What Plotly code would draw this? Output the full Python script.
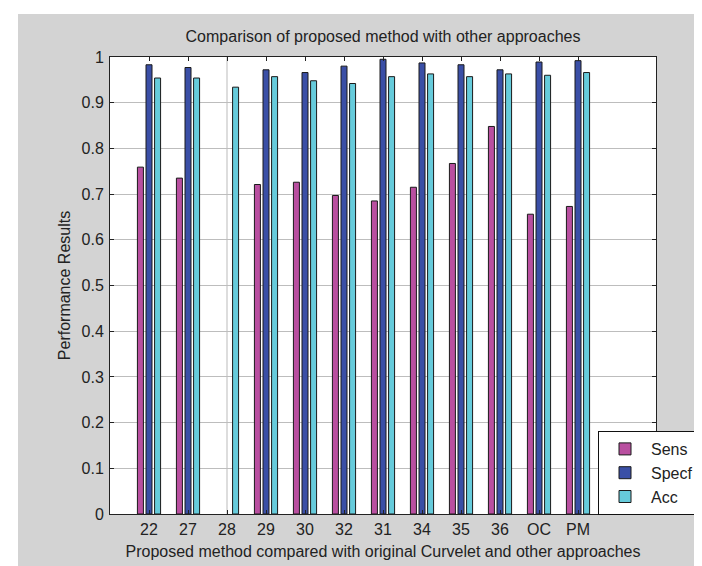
import plotly.graph_objects as go

categories = ["22", "27", "28", "29", "30", "32", "31", "34", "35", "36", "OC", "PM"]
positions = list(range(1, len(categories) + 1))
sens = [0.759, 0.735, None, 0.721, 0.726, 0.697, 0.685, 0.715, 0.767, 0.848, 0.656, 0.673]
specf = [0.983, 0.977, None, 0.972, 0.966, 0.980, 0.995, 0.987, 0.983, 0.972, 0.989, 0.992]
acc = [0.954, 0.954, 0.934, 0.957, 0.948, 0.942, 0.957, 0.963, 0.957, 0.963, 0.960, 0.966]
series_names = ["Sens", "Specf", "Acc"]
series_colors = ["#b94fa0", "#3a4fa6", "#66cbdb"]
y_ticks = [0, 0.1, 0.2, 0.3, 0.4, 0.5, 0.6, 0.7, 0.8, 0.9, 1]

FONT = "Liberation Sans, Arial, Helvetica, sans-serif"
GRAY = "#d3d3d3"
FS = 16
TXT = "#222222"

fig = go.Figure()
for name, vals, col in zip(series_names, [sens, specf, acc], series_colors):
    fig.add_trace(go.Bar(
        x=positions, y=vals, name=name,
        marker=dict(color=col, line=dict(color="#1a1a1a", width=1)),
    ))

W, H = 702, 566
L, R, T, B = 102, 54, 49, 60
PW, PH = W - L - R, H - T - B

fig.update_layout(
    width=W, height=H,
    margin=dict(l=L, r=R, t=T, b=B, autoexpand=False),
    paper_bgcolor=GRAY,
    plot_bgcolor="white",
    barmode="group",
    bargap=0.34,
    bargroupgap=0.3,
    font=dict(family=FONT, size=FS, color=TXT),
    title=dict(text="Comparison of proposed method with other approaches",
               x=0.5, xref="paper", xanchor="center",
               y=1 - 28 / H, yref="container", yanchor="middle",
               font=dict(family=FONT, size=FS, color=TXT)),
    showlegend=True,
    legend=dict(x=(590 - L) / PW, y=(506 - 423) / PH,
                xanchor="left", yanchor="top",
                bgcolor="white", bordercolor="#111111", borderwidth=1,
                font=dict(family=FONT, size=FS, color=TXT),
                itemwidth=42),
    shapes=[
        dict(type="rect", xref="paper", yref="paper",
             x0=-L / PW, x1=-(L - 10) / PW,
             y0=-B / PH, y1=1 + T / PH,
             fillcolor="white", line=dict(width=0), layer="below"),
        dict(type="rect", xref="paper", yref="paper",
             x0=-L / PW, x1=1 + R / PW,
             y0=1 + (T - 6) / PH, y1=1 + T / PH,
             fillcolor="white", line=dict(width=0), layer="below"),
        dict(type="line", xref="x", yref="paper", x0=3, x1=3, y0=0, y1=1,
             line=dict(color="#bbbbbb", width=1), layer="below"),
    ],
)

fig.update_xaxes(
    range=[0, 14], tickmode="array", tickvals=positions, ticktext=categories,
    ticks="inside", ticklen=4, tickcolor=TXT,
    showline=True, linecolor=TXT, linewidth=1, mirror="ticks",
    showgrid=False, zeroline=False,
    ticklabelstandoff=1,
    tickfont=dict(family=FONT, size=FS, color=TXT),
    title=dict(text="Proposed method compared with original Curvelet and other approaches",
               standoff=8, font=dict(family=FONT, size=FS, color=TXT)),
)
fig.update_yaxes(
    range=[0, 1], tickmode="array", tickvals=y_ticks,
    ticktext=[f"{v:g}" for v in y_ticks],
    ticks="inside", ticklen=4, tickcolor=TXT,
    showline=True, linecolor=TXT, linewidth=1, mirror="ticks",
    showgrid=True, gridcolor="#bdbdbd", gridwidth=1, zeroline=False,
    ticklabelstandoff=2,
    tickfont=dict(family=FONT, size=FS, color=TXT),
    title=dict(text="Performance Results", standoff=6,
               font=dict(family=FONT, size=FS, color=TXT)),
)

fig.write_html("out.html")
